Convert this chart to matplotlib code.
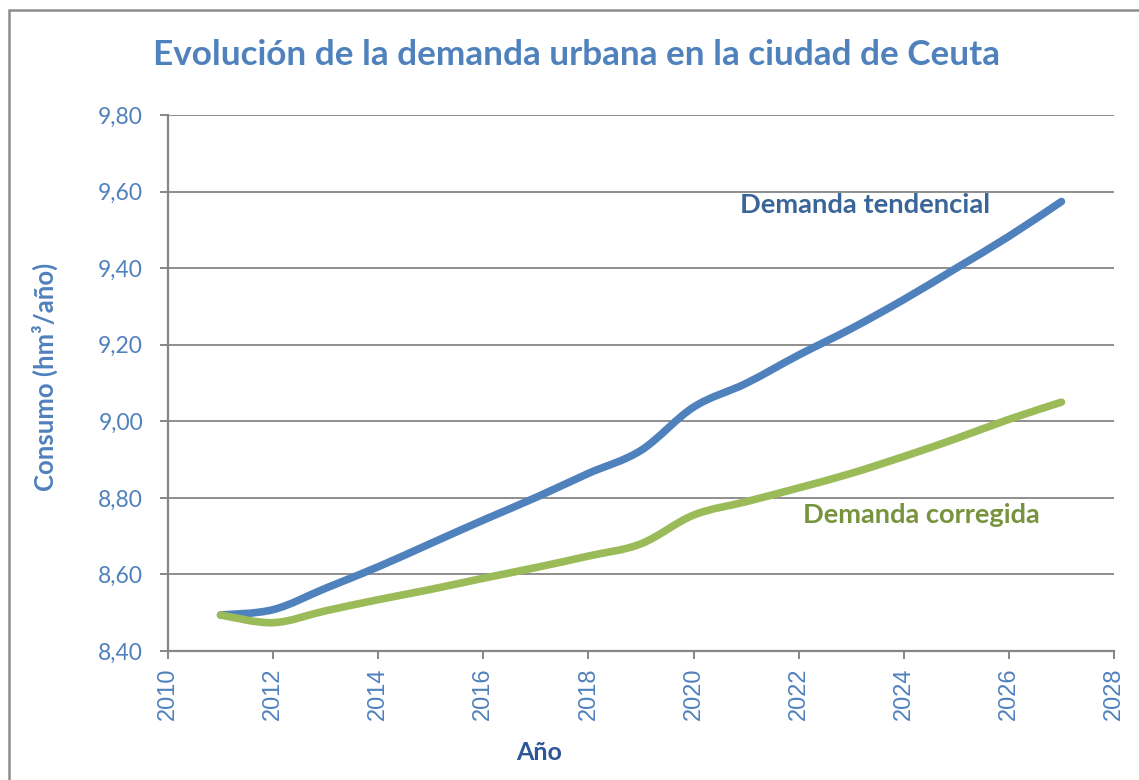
import numpy as np
import matplotlib.pyplot as plt
from matplotlib.path import Path
from matplotlib.patches import PathPatch, Rectangle
from matplotlib.ticker import FuncFormatter

years = [2011, 2012, 2013, 2014, 2015, 2016, 2017, 2018, 2019,
         2020, 2021, 2022, 2023, 2024, 2025, 2026, 2027]
demanda_tendencial = [8.494, 8.508, 8.564, 8.620, 8.681, 8.742, 8.801, 8.864, 8.924,
                      9.037, 9.099, 9.173, 9.242, 9.318, 9.400, 9.483, 9.574]
demanda_corregida = [8.494, 8.474, 8.505, 8.534, 8.561, 8.590, 8.618, 8.648, 8.680,
                     8.755, 8.790, 8.826, 8.864, 8.908, 8.955, 9.005, 9.050]

BLUE = '#4F81BD'
GREEN = '#9BBB59'
GRID = '#868686'


def smooth_path(x, y):
    # bezier por tramos, como el suavizado de Excel
    pts = np.column_stack([x, y]).astype(float)
    n = len(pts)
    verts = [pts[0]]
    codes = [Path.MOVETO]
    for i in range(n - 1):
        p0 = pts[max(i - 1, 0)]
        p1 = pts[i]
        p2 = pts[i + 1]
        p3 = pts[min(i + 2, n - 1)]
        c1 = p1 + (p2 - p0) / 6
        c2 = p2 - (p3 - p1) / 6
        verts += [c1, c2, p2]
        codes += [Path.CURVE4] * 3
    return Path(verts, codes)


fig = plt.figure(figsize=(11.39, 7.8), dpi=100)
ax = fig.add_axes([168 / 1139, 1 - 651 / 780, (1114 - 168) / 1139, (651 - 115) / 780])

for serie, color in [(demanda_tendencial, BLUE), (demanda_corregida, GREEN)]:
    patch = PathPatch(smooth_path(years, serie), fill=False, edgecolor=color,
                      linewidth=5.5, capstyle='round', joinstyle='round', zorder=3)
    ax.add_patch(patch)

ax.set_xlim(2010, 2028)
ax.set_ylim(8.40, 9.80)
ax.set_xticks(range(2010, 2029, 2))
ax.set_yticks(np.arange(8.40, 9.81, 0.20))
ax.yaxis.set_major_formatter(FuncFormatter(lambda v, p: f'{v:.2f}'.replace('.', ',')))

ax.grid(axis='y', color=GRID, linewidth=1.3)
ax.set_axisbelow(True)
for s in ['top', 'right']:
    ax.spines[s].set_visible(False)
for s in ['left', 'bottom']:
    ax.spines[s].set_color(GRID)
    ax.spines[s].set_linewidth(1.6)

ax.tick_params(axis='y', length=6, width=1.4, color=GRID, pad=12,
               labelsize=16.5, labelcolor=BLUE)
ax.tick_params(axis='x', length=6, width=1.4, color=GRID, pad=6,
               labelsize=17, labelcolor=BLUE, labelrotation=90)
for lab in ax.get_yticklabels():
    lab.set_family('Lato')
for lab in ax.get_xticklabels():
    lab.set_family('Liberation Sans')

fig.text(0.506, 1 - 55 / 780, 'Evolución de la demanda urbana en la ciudad de Ceuta',
         ha='center', va='center', fontsize=25.3, fontweight='bold', color=BLUE, family='Lato')
fig.text(45 / 1139, 1 - 377 / 780, 'Consumo (hm³/año)', rotation=90, ha='center', va='center',
         fontsize=18.5, fontweight='bold', color=BLUE, family='Lato')
fig.text(539 / 1139, 1 - 752 / 780, 'Año', ha='center', va='center',
         fontsize=18, fontweight='bold', color='#2B5797', family='Lato')

ax.text(2023.26, 9.544, 'Demanda tendencial', ha='center', va='baseline',
        fontsize=19.7, fontweight='bold', color='#3A6598', family='Lato')
ax.text(2024.34, 8.734, 'Demanda corregida', ha='center', va='baseline',
        fontsize=19.6, fontweight='bold', color='#77933C', family='Lato')

# borde del gráfico
fig.patches.append(Rectangle((9 / 1139, -0.1), 1.2, 1.1 - 10 / 780, transform=fig.transFigure,
                             fill=False, edgecolor='#8C8C8C', linewidth=1.8))

fig.savefig('out.png', dpi=100)
